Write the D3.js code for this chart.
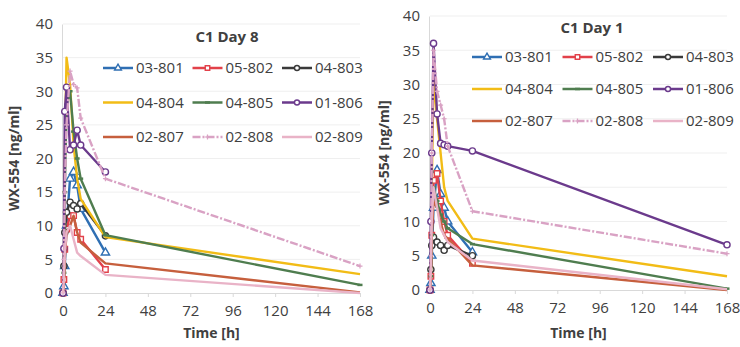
<!DOCTYPE html>
<html>
<head>
<meta charset="utf-8">
<script src="https://cdn.jsdelivr.net/npm/d3@7"></script>
<style>
  body { margin: 0; background: #fff; }
  svg { font-family: "Open Sans", sans-serif; }
</style>
</head>
<body>
<div id="chart"></div>
<script>
// sampling times [h]
const times = [0, 0.5, 1, 2, 4, 6, 8, 10, 24, 168];
const subjects = ['03-801', '05-802', '04-803', '04-804', '04-805', '01-806', '02-807', '02-808', '02-809'];
const xTicks = [0, 24, 48, 72, 96, 120, 144, 168];
const yTicks = [0, 5, 10, 15, 20, 25, 30, 35, 40];

// WX-554 [ng/ml], C1 Day 8, one row per subject (null = no sample)
const day8 = [
  [0, 1, 4, 10, 17, 18, 16, 12.5, 6, null],
  [0, 2, 6.5, 9.5, 11.5, 11.5, 9, 8, 3.5, null],
  [0, 4, 9, 12, 13.5, 13, 12.5, 13.3, 8.5, null],
  [0, 2, 20, 35, 31, 22, 17, 14, 8.3, 2.8],
  [0, 3, 15, 28, 30, 24, 20, 17, 8.6, 1.2],
  [0, 6.6, 27, 30.6, 21.3, 22, 24.2, 22, 18, null],
  [0, 1, 5, 9, 10, 11.5, 9, 7.5, 4.4, 0.1],
  [0, 5, 15, 25, 33, 31, 30.5, 26, 17, 4],
  [0, 2, 6, 9, 10, 8, 6, 5.5, 2.7, 0]
];

// WX-554 [ng/ml], C1 Day 1
const day1 = [
  [0, 1, 5, 12, 17.5, 14, 12, 10, 5.5, null],
  [0, 2, 8, 16, 17, 13, 10, 8, 3.9, null],
  [0, 3, 6.5, 7.7, 7, 6.5, 5.8, 6.5, 5, null],
  [0, 3, 15, 31, 25, 20, 15, 13, 7.5, 2],
  [0, 2, 8, 15, 13, 11, 10, 9, 6.7, 0.2],
  [0, 10, 20, 36, 25.7, 21.4, 21.2, 21, 20.3, 6.6],
  [0, 2, 8, 13, 12, 10, 8, 7.5, 3.6, 0],
  [0, 5, 20, 35, 29, 27, 25, 21, 11.5, 5.3],
  [0, 3, 10, 15, 12, 9, 8, 7, 4.3, 0.1]
];

const styles = [
  { color: '#2f6fb3', marker: 'triangle' },
  { color: '#e2414a', marker: 'square' },
  { color: '#3a3a3a', marker: 'circle' },
  { color: '#f2bc16', marker: null },
  { color: '#4f7d4f', marker: 'dash' },
  { color: '#6b3a8c', marker: 'circle' },
  { color: '#c65f3d', marker: null },
  { color: '#d9a2c4', marker: 'plus', dash: '8,2,2,2' },
  { color: '#e9b3c7', marker: null }
];

const width = 740, height = 347;
const textColor = '#404040';

const svg = d3.select('#chart').append('svg')
  .attr('width', width)
  .attr('height', height);

const panels = [
  { title: 'C1 Day 8', data: day8, x0: 63, x1: 360, y0: 293, y1: 24,
    titleX: 227, titleY: 42, yTitleX: 14, legendX: 103, legendY: 68, rowGap: 34.5, colGap: 89.5 },
  { title: 'C1 Day 1', data: day1, x0: 430, x1: 727, y0: 290, y1: 16,
    titleX: 592, titleY: 33, yTitleX: 384, legendX: 472, legendY: 57, rowGap: 32, colGap: 90.5 }
];

function drawMarker(g, type, color, x, y, size) {
  if (type === 'triangle' || type === 'square' || type === 'circle') {
    const sym = type === 'triangle' ? d3.symbolTriangle : type === 'square' ? d3.symbolSquare : d3.symbolCircle;
    g.append('path')
      .attr('d', d3.symbol(sym, size)())
      .attr('transform', `translate(${x},${y})`)
      .attr('fill', '#fff')
      .attr('stroke', color)
      .attr('stroke-width', 1.4);
  } else if (type === 'plus') {
    g.append('path')
      .attr('d', `M${x - 2.5},${y}H${x + 2.5}M${x},${y - 2.5}V${y + 2.5}`)
      .attr('stroke', color).attr('stroke-width', 1.2);
  } else if (type === 'dash') {
    g.append('path')
      .attr('d', `M${x - 2.5},${y}H${x + 2.5}`)
      .attr('stroke', color).attr('stroke-width', 2.5);
  }
}

panels.forEach(p => {
  const x = d3.scaleLinear().domain([0, 168]).range([p.x0, p.x1]);
  const y = d3.scaleLinear().domain([0, 40]).range([p.y0, p.y1]);
  const g = svg.append('g');

  // grid
  g.append('g')
    .selectAll('line')
    .data(yTicks.slice(1))
    .join('line')
    .attr('x1', p.x0).attr('x2', p.x1)
    .attr('y1', d => y(d)).attr('y2', d => y(d))
    .attr('stroke', '#efefef');

  // y axis
  g.append('g')
    .attr('transform', `translate(${p.x0 - 1},0)`)
    .call(d3.axisLeft(y).tickValues(yTicks).tickSize(0).tickPadding(9))
    .call(a => a.select('.domain').attr('stroke', '#d9d9d9'))
    .call(a => a.selectAll('text').attr('font-size', 15).attr('fill', textColor).attr('font-family', 'Open Sans'));

  // x axis
  g.append('g')
    .attr('transform', `translate(0,${p.y0})`)
    .call(d3.axisBottom(x).tickValues(xTicks).tickSize(4).tickPadding(8))
    .call(a => a.select('.domain').attr('stroke', '#d9d9d9'))
    .call(a => a.selectAll('line').attr('stroke', '#d9d9d9'))
    .call(a => a.selectAll('text').attr('font-size', 15).attr('fill', textColor).attr('font-family', 'Open Sans'));

  // series
  const line = d3.line()
    .defined(d => d.v !== null)
    .x(d => x(d.t))
    .y(d => y(d.v));

  p.data.forEach((vals, i) => {
    const st = styles[i];
    const pts = vals.map((v, k) => ({ t: times[k], v: v }));
    g.append('path')
      .datum(pts)
      .attr('d', line)
      .attr('fill', 'none')
      .attr('stroke', st.color)
      .attr('stroke-width', 2.4)
      .attr('stroke-dasharray', st.dash || null)
      .attr('stroke-linejoin', 'round');
    if (st.marker) {
      pts.filter(d => d.v !== null).forEach(d => drawMarker(g, st.marker, st.color, x(d.t), y(d.v), 30));
    }
  });

  // title
  svg.append('text')
    .attr('x', p.titleX).attr('y', p.titleY)
    .attr('text-anchor', 'middle')
    .attr('font-size', 15).attr('font-weight', 'bold')
    .attr('fill', textColor)
    .text(p.title);

  // axis titles
  svg.append('text')
    .attr('x', (p.x0 + p.x1) / 2).attr('y', 338)
    .attr('text-anchor', 'middle')
    .attr('font-size', 14).attr('font-weight', 'bold')
    .attr('fill', textColor)
    .text('Time [h]');

  svg.append('text')
    .attr('transform', `translate(${p.yTitleX},${(p.y0 + p.y1) / 2}) rotate(-90)`)
    .attr('text-anchor', 'middle')
    .attr('dy', '0.35em')
    .attr('font-size', 14).attr('font-weight', 'bold')
    .attr('fill', textColor)
    .text('WX-554 [ng/ml]');

  // legend
  const leg = svg.append('g');
  subjects.forEach((name, i) => {
    const st = styles[i];
    const lx = p.legendX + (i % 3) * p.colGap;
    const ly = p.legendY + Math.floor(i / 3) * p.rowGap;
    leg.append('line')
      .attr('x1', lx).attr('x2', lx + 30)
      .attr('y1', ly).attr('y2', ly)
      .attr('stroke', st.color)
      .attr('stroke-width', 2.5)
      .attr('stroke-dasharray', st.dash || null);
    if (st.marker) drawMarker(leg, st.marker, st.color, lx + 15, ly, 20);
    leg.append('text')
      .attr('x', lx + 33).attr('y', ly)
      .attr('dy', '0.36em')
      .attr('font-size', 15)
      .attr('fill', textColor)
      .text(name);
  });
});
</script>
</body>
</html>
